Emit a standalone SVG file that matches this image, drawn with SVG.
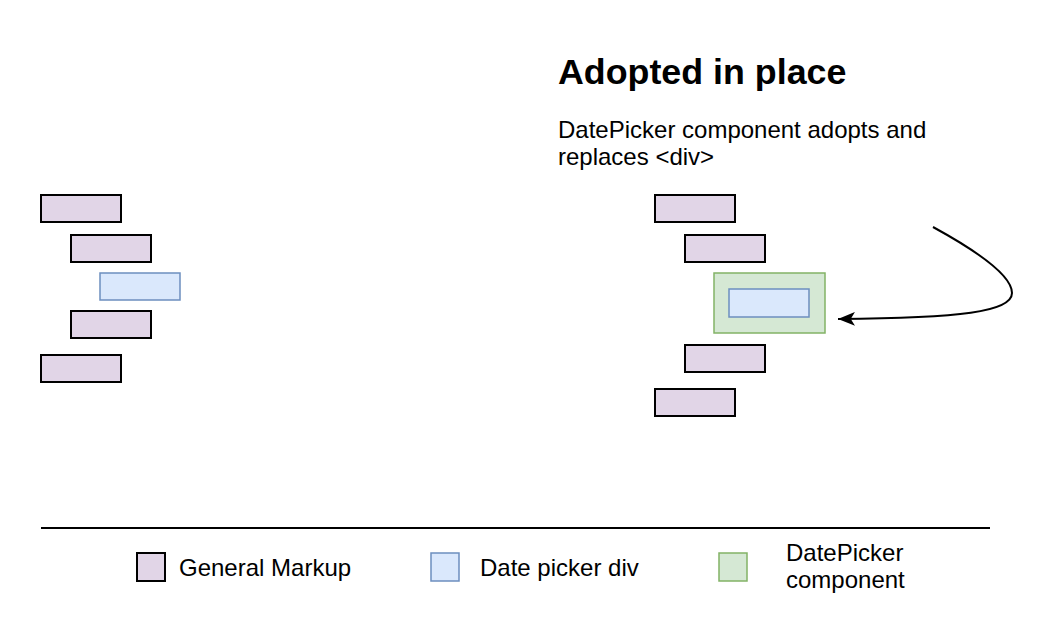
<svg xmlns="http://www.w3.org/2000/svg" width="1056" height="644" viewBox="0 0 1056 644">
  <style>
    .markup { fill: #e1d5e7; stroke: #000000; stroke-width: 2; }
    .div { fill: #dae8fc; stroke: #6c8ebf; stroke-width: 1.5; }
    .comp { fill: #d5e8d4; stroke: #82b366; stroke-width: 1.5; }
    .txt { font-family: "Liberation Sans", Arial, Helvetica, sans-serif; font-size: 24px; fill: #000000; }
    .title { font-family: "Liberation Sans", Arial, Helvetica, sans-serif; font-size: 35.8px; font-weight: bold; fill: #000000; }
    .edge { fill: none; stroke: #000000; stroke-width: 2; }
  </style>
  <defs>
    <marker id="arrow" viewBox="0 0 16 13" refX="16" refY="6.5" markerWidth="17" markerHeight="14" markerUnits="userSpaceOnUse" orient="auto">
      <path d="M0,0 L16,6.5 L0,13 L4,6.5 Z" fill="#000000"/>
    </marker>
  </defs>
  <rect width="1056" height="644" fill="#ffffff"/>

  <g id="left-markup-1"><rect class="markup" x="41" y="195" width="80" height="27"/></g>
  <g id="left-markup-2"><rect class="markup" x="71" y="235" width="80" height="27"/></g>
  <g id="left-datepicker-div"><rect class="div" x="100" y="273" width="80" height="27"/></g>
  <g id="left-markup-3"><rect class="markup" x="71" y="311" width="80" height="27"/></g>
  <g id="left-markup-4"><rect class="markup" x="41" y="355" width="80" height="27"/></g>

  <g id="title"><text class="title" x="558" y="84">Adopted in place</text></g>
  <g id="description">
    <text class="txt" x="558" y="137.5">DatePicker component adopts and</text>
    <text class="txt" x="558" y="164.5">replaces &lt;div&gt;</text>
  </g>

  <g id="right-markup-1"><rect class="markup" x="655" y="195" width="80" height="27"/></g>
  <g id="right-markup-2"><rect class="markup" x="685" y="235" width="80" height="27"/></g>
  <g id="right-datepicker-component"><rect class="comp" x="714" y="273" width="111" height="60"/></g>
  <g id="right-datepicker-div"><rect class="div" x="729" y="289" width="80" height="28"/></g>
  <g id="right-markup-3"><rect class="markup" x="685" y="345" width="80" height="27"/></g>
  <g id="right-markup-4"><rect class="markup" x="655" y="389" width="80" height="27"/></g>

  <g id="connectors">
    <path class="edge" d="M933,227 C975,250 1012,275 1012,293 C1012,312 960,318 838,319" marker-end="url(#arrow)"/>
  </g>

  <g id="legend">
    <line x1="41" y1="528" x2="990" y2="528" stroke="#000000" stroke-width="2"/>
    <g id="legend-general-markup">
      <rect class="markup" x="137" y="553" width="28" height="28"/>
      <text class="txt" x="179" y="576">General Markup</text>
    </g>
    <g id="legend-date-picker-div">
      <rect class="div" x="431" y="553" width="28" height="28"/>
      <text class="txt" x="480" y="576">Date picker div</text>
    </g>
    <g id="legend-datepicker-component">
      <rect class="comp" x="719" y="553" width="28" height="28"/>
      <text class="txt" x="786" y="561">DatePicker</text>
      <text class="txt" x="786" y="588">component</text>
    </g>
  </g>
</svg>
